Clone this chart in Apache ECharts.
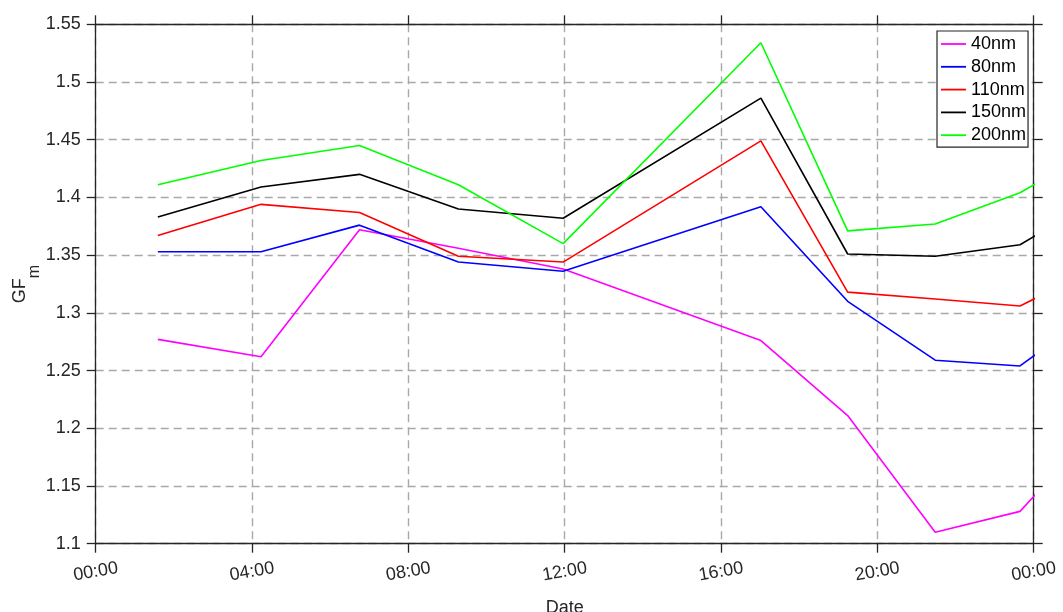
<!DOCTYPE html>
<html>
<head>
<meta charset="utf-8">
<script src="https://cdn.jsdelivr.net/npm/echarts@6/dist/echarts.min.js"></script>
<style>
html,body{margin:0;padding:0;background:#fff;}
#chart{width:1063px;height:612px;}
</style>
</head>
<body>
<div id="chart"></div>
<script>
// Sample times in hours since 00:00 (last one lies past the right edge and is clipped)
const hours = [1.59, 4.23, 6.75, 9.28, 11.96, 17.02, 19.24, 21.48, 23.65, 25.85];
const seriesNames = ['40nm', '80nm', '110nm', '150nm', '200nm'];
const gf40  = [1.277, 1.262, 1.372, 1.356, 1.338, 1.276, 1.211, 1.110, 1.128, 1.209];
const gf80  = [1.353, 1.353, 1.376, 1.344, 1.336, 1.392, 1.310, 1.259, 1.254, 1.308];
const gf110 = [1.367, 1.394, 1.387, 1.349, 1.344, 1.449, 1.318, 1.312, 1.306, 1.343];
const gf150 = [1.383, 1.409, 1.420, 1.390, 1.382, 1.486, 1.351, 1.349, 1.359, 1.403];
const gf200 = [1.411, 1.432, 1.445, 1.411, 1.360, 1.534, 1.371, 1.377, 1.404, 1.447];
const xTicks = [0, 4, 8, 12, 16, 20, 24];
const yMin = 1.1, yMax = 1.55, yStep = 0.05;
const colors = ['#ff00ff', '#0000ff', '#ff0000', '#000000', '#00ff00'];

const allValues = [gf40, gf80, gf110, gf150, gf200];
const FONT = "'Liberation Sans', Arial, sans-serif";
const AX = '#262626';

function fmtHour(v) {
  const h = Math.round(v) % 24;
  return (h < 10 ? '0' : '') + h + ':00';
}

const chart = echarts.init(document.getElementById('chart'), null, {renderer: 'canvas'});
const gridLine = {show: true, lineStyle: {color: '#a8a8a8', width: 1.4, type: [8, 5]}};

const option = {
  animation: false,
  backgroundColor: '#ffffff',
  textStyle: {fontFamily: FONT},
  grid: {left: 95.7, right: 29.3, top: 24.3, bottom: 68.3, containLabel: false, outerBoundsMode: 'none'},
  legend: {
    orient: 'vertical',
    left: 937, top: 31,
    padding: [4, 2, 3, 4],
    icon: 'rect',
    itemWidth: 25, itemHeight: 1.8, itemGap: 4.8,
    backgroundColor: '#ffffff',
    borderColor: '#262626', borderWidth: 1.2,
    textStyle: {fontFamily: FONT, fontSize: 18, color: '#000'},
    data: seriesNames
  },
  xAxis: [{
    type: 'value', min: xTicks[0], max: xTicks[xTicks.length - 1], interval: 4,
    name: 'Date', nameLocation: 'middle', nameGap: 55, nameMoveOverlap: false,
    nameTextStyle: {fontFamily: FONT, fontSize: 18, color: AX},
    axisLine: {show: true, onZero: false, lineStyle: {color: AX, width: 1.3}},
    axisTick: {show: true, inside: false, length: 9, lineStyle: {color: AX, width: 1.3}},
    axisLabel: {show: true, rotate: 10, margin: 28, align: 'center', verticalAlign: 'middle',
      fontFamily: FONT, fontSize: 18, color: AX, formatter: fmtHour, showMaxLabel: true, showMinLabel: true},
    splitLine: gridLine
  }, {
    type: 'value', position: 'top', min: xTicks[0], max: xTicks[xTicks.length - 1], interval: 4,
    axisLine: {show: true, onZero: false, lineStyle: {color: AX, width: 1.3}},
    axisTick: {show: true, inside: false, length: 9, lineStyle: {color: AX, width: 1.3}},
    axisLabel: {show: false}, splitLine: {show: false}
  }],
  yAxis: [{
    type: 'value', min: yMin, max: yMax, interval: yStep,
    name: '{a|GF}{b|m}', nameLocation: 'middle', nameGap: 53, nameRotate: 90, nameMoveOverlap: false,
    nameTextStyle: {
      color: AX,
      rich: {
        a: {fontFamily: FONT, fontSize: 18, color: AX, verticalAlign: 'top', lineHeight: 18},
        b: {fontFamily: FONT, fontSize: 16, color: AX, verticalAlign: 'bottom', lineHeight: 32}
      }
    },
    axisLine: {show: true, onZero: false, lineStyle: {color: AX, width: 1.3}},
    axisTick: {show: true, inside: false, length: 9, lineStyle: {color: AX, width: 1.3}},
    axisLabel: {show: true, margin: 15, fontFamily: FONT, fontSize: 18, color: AX,
      formatter: v => String(parseFloat(v.toFixed(2)))},
    splitLine: gridLine
  }, {
    type: 'value', position: 'right', min: yMin, max: yMax, interval: yStep,
    axisLine: {show: true, onZero: false, lineStyle: {color: AX, width: 1.3}},
    axisTick: {show: true, inside: false, length: 9, lineStyle: {color: AX, width: 1.3}},
    axisLabel: {show: false}, splitLine: {show: false}
  }],
  series: seriesNames.map((name, i) => ({
    name: name,
    type: 'line',
    xAxisIndex: 0, yAxisIndex: 0,
    symbol: 'none',
    clip: true,
    color: colors[i],
    lineStyle: {color: colors[i], width: 1.6},
    data: hours.map((h, j) => [h, allValues[i][j]])
  }))
};
chart.setOption(option);
</script>
</body>
</html>
